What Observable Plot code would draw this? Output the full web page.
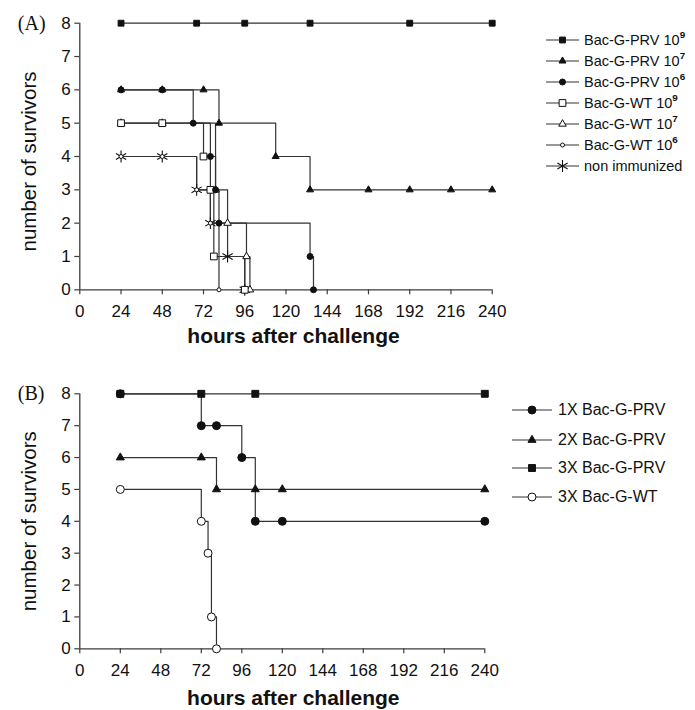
<!DOCTYPE html>
<html>
<head>
<meta charset="utf-8">
<script src="https://cdn.jsdelivr.net/npm/d3@7"></script>
<script src="https://cdn.jsdelivr.net/npm/@observablehq/plot@0.6"></script>
<style>
  html, body { margin: 0; padding: 0; background: #fff; overflow: hidden; }
  #wrap { position: relative; width: 695px; height: 710px; background: #fff; }
  .panel { position: absolute; left: 0; }
  .legend { position: absolute; font-family: "Liberation Sans", Arial, Helvetica, sans-serif; color: #111; }
  .legend .row { position: absolute; left: 0; display: flex; align-items: center; white-space: nowrap; }
  .legend .row svg { flex: none; }
  .legend sup { font-weight: bold; line-height: 0; position: relative; top: -1px; }
</style>
</head>
<body>
<div id="wrap"></div>
<script>
// ---------- shared ticks ----------
const hoursTicks = [0, 24, 48, 72, 96, 120, 144, 168, 192, 216, 240];
const survivorTicks = [0, 1, 2, 3, 4, 5, 6, 7, 8];

// ---------- Panel A data ----------
const aSeriesNames = ["Bac-G-PRV", "Bac-G-PRV", "Bac-G-PRV", "Bac-G-WT", "Bac-G-WT", "Bac-G-WT", "non immunized"];
const aSeriesDoses = ["9", "7", "6", "9", "7", "6", null];

const prv9Hours = [24, 68, 96, 134, 192, 240];
const prv9Survivors = [8, 8, 8, 8, 8, 8];
const prv7Hours = [24, 48, 72, 81, 114, 134, 168, 192, 216, 240];
const prv7Survivors = [6, 6, 6, 5, 4, 3, 3, 3, 3, 3];
const prv6Hours = [24, 48, 66, 76, 79, 81, 134, 136];
const prv6Survivors = [6, 6, 5, 4, 3, 2, 1, 0];
const wt9Hours = [24, 48, 72, 76, 78, 96];
const wt9Survivors = [5, 5, 4, 3, 1, 0];
const wt7Hours = [24, 48, 79, 86, 97, 99];
const wt7Survivors = [5, 5, 3, 2, 1, 0];
const wt6Hours = [24, 48, 68, 76, 81];
const wt6Survivors = [4, 4, 3, 2, 0];
const nonHours = [24, 48, 68, 76, 86, 96];
const nonSurvivors = [4, 4, 3, 2, 1, 0];

// ---------- Panel B data ----------
const bSeriesNames = ["1X Bac-G-PRV", "2X Bac-G-PRV", "3X Bac-G-PRV", "3X Bac-G-WT"];
const b1xHours = [24, 72, 81, 96, 104, 120, 240];
const b1xSurvivors = [8, 7, 7, 6, 4, 4, 4];
const b2xHours = [24, 72, 81, 104, 120, 240];
const b2xSurvivors = [6, 6, 5, 5, 5, 5];
const b3xHours = [24, 72, 104, 240];
const b3xSurvivors = [8, 8, 8, 8];
const bwtHours = [24, 72, 76, 78, 81];
const bwtSurvivors = [5, 4, 3, 1, 0];

// ---------- styles (kept apart from data) ----------
const sans = "'Liberation Sans', Arial, Helvetica, sans-serif";
const serif = "'Liberation Serif', 'Times New Roman', Times, serif";
const axisColor = "#3c3c3c";
const lineColor = "#333";
const ink = "#111";

const aStyles = [
  {symbol: "square",   fill: ink,     r: 3.3},
  {symbol: "triangle", fill: ink,     r: 2.6},
  {symbol: "circle",   fill: ink,     r: 3.0},
  {symbol: "square",   fill: "white", r: 3.8},
  {symbol: "triangle", fill: "white", r: 2.8},
  {symbol: "circle",   fill: "white", r: 2.0},
  {symbol: "asterisk", fill: "none",  r: 5.6}
];
const bStyles = [
  {symbol: "circle",   fill: ink,     r: 4.0},
  {symbol: "triangle", fill: ink,     r: 3.0},
  {symbol: "square",   fill: ink,     r: 3.9},
  {symbol: "circle",   fill: "white", r: 4.0}
];

const zip = (hs, ss) => hs.map((h, i) => ({h, s: ss[i]}));
const aData = [
  zip(prv9Hours, prv9Survivors), zip(prv7Hours, prv7Survivors), zip(prv6Hours, prv6Survivors),
  zip(wt9Hours, wt9Survivors), zip(wt7Hours, wt7Survivors), zip(wt6Hours, wt6Survivors),
  zip(nonHours, nonSurvivors)
];
const bData = [
  zip(b1xHours, b1xSurvivors), zip(b2xHours, b2xSurvivors),
  zip(b3xHours, b3xSurvivors), zip(bwtHours, bwtSurvivors)
];

function lineMarks(datasets) {
  return datasets.map(d => Plot.line(d, {x: "h", y: "s", curve: "step-after", stroke: lineColor, strokeWidth: 1.2}));
}
function dotMarks(datasets, styles, order) {
  return order.map(i => Plot.dot(datasets[i], {
    x: "h", y: "s", symbol: styles[i].symbol, r: styles[i].r,
    fill: styles[i].fill, stroke: ink, strokeWidth: styles[i].symbol === "asterisk" ? 1.1 : 1
  }));
}

function makePanel({height, marginTop, marginBottom, marginRight, letter, datasets, styles, order, ylabelDy, xlabelDx, xlabelDy}) {
  return Plot.plot({
    width: 695, height,
    marginLeft: 79.3, marginRight, marginTop, marginBottom,
    x: {domain: [0, 240]},
    y: {domain: [0, 8]},
    style: {fontFamily: sans, background: "white", overflow: "visible", color: ink},
    marks: [
      Plot.axisX({ticks: hoursTicks, tickSize: 5, tickPadding: 10, fontSize: 17, stroke: axisColor, fill: ink, strokeWidth: 1.2, label: null}),
      Plot.axisY({ticks: survivorTicks, tickSize: 5, tickPadding: 4, fontSize: 17, stroke: axisColor, fill: ink, strokeWidth: 1.2, label: null}),
      Plot.ruleY([0], {x1: 0, x2: 240, stroke: axisColor, strokeWidth: 1.3}),
      Plot.ruleX([0], {y1: 0, y2: 8, stroke: axisColor, strokeWidth: 1.3}),
      ...lineMarks(datasets),
      ...dotMarks(datasets, styles, order),
      Plot.text([letter], {text: d => d, frameAnchor: "top-left", dx: -62, textAnchor: "start", lineAnchor: "middle", fontFamily: serif, fontSize: 20, fill: ink}),
      Plot.text(["number of survivors"], {text: d => d, frameAnchor: "left", dx: -50, dy: ylabelDy, rotate: -90, textAnchor: "middle", lineAnchor: "middle", fontSize: 20.5, fill: ink}),
      Plot.text(["hours after challenge"], {text: d => d, frameAnchor: "bottom", dx: xlabelDx, dy: xlabelDy, textAnchor: "middle", lineAnchor: "middle", fontSize: 21, fontWeight: "bold", fill: ink})
    ]
  });
}

const wrap = document.getElementById("wrap");

const plotA = makePanel({
  height: 350, marginTop: 22.7, marginBottom: 60.7, marginRight: 203.3, letter: "(A)",
  datasets: aData, styles: aStyles, order: [6, 5, 4, 3, 2, 1, 0],
  ylabelDy: 5, xlabelDx: 7.5, xlabelDy: 46
});
const plotB = makePanel({
  height: 360, marginTop: 43.3, marginBottom: 61.7, marginRight: 210.7, letter: "(B)",
  datasets: bData, styles: bStyles, order: [0, 1, 2, 3],
  ylabelDy: 0, xlabelDx: 11, xlabelDy: 49
});

const pa = document.createElement("div"); pa.className = "panel"; pa.style.top = "0px"; pa.appendChild(plotA); wrap.appendChild(pa);
const pb = document.createElement("div"); pb.className = "panel"; pb.style.top = "350px"; pb.appendChild(plotB); wrap.appendChild(pb);

// ---------- legends ----------
function markerSvg(style, w, lineW) {
  const h = 16, cx = w / 2, cy = h / 2;
  const sym = {square: d3.symbolSquare, triangle: d3.symbolTriangle, circle: d3.symbolCircle, asterisk: d3.symbolAsterisk}[style.symbol];
  const path = d3.symbol(sym, Math.PI * style.r * style.r)();
  const fill = style.fill;
  const sw = style.symbol === "asterisk" ? 1.1 : 1;
  return `<svg width="${w}" height="${h}" viewBox="0 0 ${w} ${h}">
    <line x1="0" x2="${w}" y1="${cy}" y2="${cy}" stroke="${lineColor}" stroke-width="${lineW}"/>
    <path d="${path}" transform="translate(${cx},${cy})" fill="${fill}" stroke="${ink}" stroke-width="${sw}"/>
  </svg>`;
}

function legend({left, rows, names, doses, styles, symW, gap, fontSize}) {
  const lg = document.createElement("div");
  lg.className = "legend";
  lg.style.left = left + "px";
  lg.style.top = "0px";
  names.forEach((n, i) => {
    const row = document.createElement("div");
    row.className = "row";
    row.style.top = (rows[i] - 8) + "px";
    row.style.height = "16px";
    row.style.fontSize = fontSize + "px";
    const label = doses && doses[i] ? `${n} 10<sup style="font-size:${fontSize * 0.68}px">${doses[i]}</sup>` : n;
    row.innerHTML = markerSvg(styles[i], symW, 1.2) + `<span style="margin-left:${gap}px">${label}</span>`;
    lg.appendChild(row);
  });
  wrap.appendChild(lg);
}

const aRows = [39.5, 60.5, 81.5, 102.5, 123.5, 144.5, 165.5];
const bRows = [410, 439.5, 468, 497];
legend({left: 546, rows: aRows, names: aSeriesNames, doses: aSeriesDoses, styles: aStyles, symW: 33, gap: 5, fontSize: 14.5});
legend({left: 512, rows: bRows, names: bSeriesNames, doses: null, styles: bStyles, symW: 40, gap: 6, fontSize: 16});
</script>
</body>
</html>
